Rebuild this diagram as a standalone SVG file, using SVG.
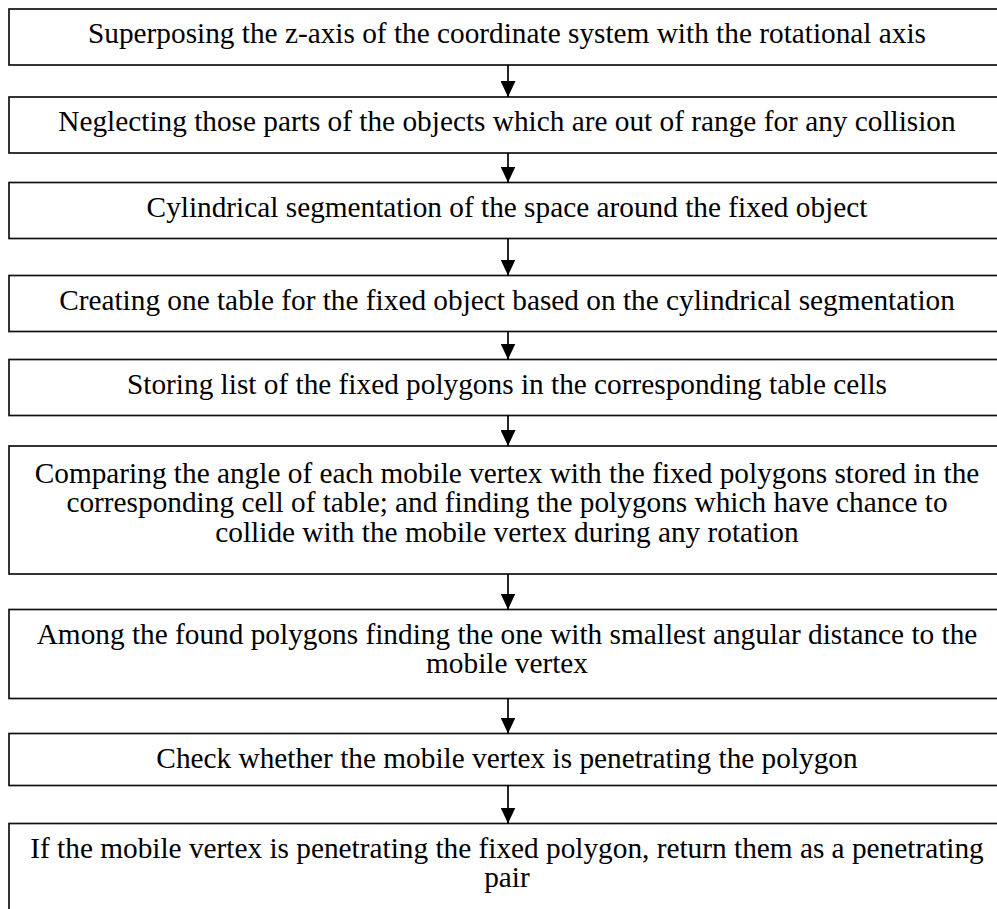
<svg xmlns="http://www.w3.org/2000/svg" width="997" height="909" viewBox="0 0 997 909">
<defs>
<style>
.box{fill:#fff;stroke:#111;stroke-width:1.7}
.t{font-family:"Liberation Serif","Times New Roman",serif;font-size:29.3px;fill:#000;text-anchor:middle}
.c{stroke:#000;stroke-width:1.7;fill:none}
</style>
<marker id="ah" markerWidth="16" markerHeight="15" refX="16" refY="7.5" orient="auto" markerUnits="userSpaceOnUse">
<path d="M0,0 L16,7.5 L0,15 Z" fill="#000"/>
</marker>
</defs>
<rect width="997" height="909" fill="#fff"/>
<g id="n1"><rect class="box" x="9" y="9" width="1000" height="56"/><text class="t" x="507" y="43">Superposing the z-axis of the coordinate system with the rotational axis</text></g>
<g id="n2"><rect class="box" x="9" y="97" width="1000" height="56"/><text class="t" x="507" y="131">Neglecting those parts of the objects which are out of range for any collision</text></g>
<g id="n3"><rect class="box" x="9" y="182.5" width="1000" height="56"/><text class="t" x="507" y="217">Cylindrical segmentation of the space around the fixed object</text></g>
<g id="n4"><rect class="box" x="9" y="275.5" width="1000" height="56"/><text class="t" x="507" y="310">Creating one table for the fixed object based on the cylindrical segmentation</text></g>
<g id="n5"><rect class="box" x="9" y="359.5" width="1000" height="56"/><text class="t" x="507" y="393.5">Storing list of the fixed polygons in the corresponding table cells</text></g>
<g id="n6"><rect class="box" x="9" y="446" width="1000" height="128"/><text class="t" x="507" y="482.5">Comparing the angle of each mobile vertex with the fixed polygons stored in the</text><text class="t" x="507" y="512">corresponding cell of table; and finding the polygons which have chance to</text><text class="t" x="507" y="541.5">collide with the mobile vertex during any rotation</text></g>
<g id="n7"><rect class="box" x="9" y="609.5" width="1000" height="89"/><text class="t" x="507" y="643.5">Among the found polygons finding the one with smallest angular distance to the</text><text class="t" x="507" y="673">mobile vertex</text></g>
<g id="n8"><rect class="box" x="9" y="733.5" width="1000" height="52"/><text class="t" x="507" y="767.5">Check whether the mobile vertex is penetrating the polygon</text></g>
<g id="n9"><rect class="box" x="9" y="823.5" width="1000" height="100"/><text class="t" x="507" y="857.5">If the mobile vertex is penetrating the fixed polygon, return them as a penetrating</text><text class="t" x="507" y="887">pair</text></g>
<g id="connectors">
<line class="c" x1="508" y1="65" x2="508" y2="97" marker-end="url(#ah)"/>
<line class="c" x1="508" y1="153" x2="508" y2="182.5" marker-end="url(#ah)"/>
<line class="c" x1="508" y1="238.5" x2="508" y2="275.5" marker-end="url(#ah)"/>
<line class="c" x1="508" y1="331.5" x2="508" y2="359.5" marker-end="url(#ah)"/>
<line class="c" x1="508" y1="415.5" x2="508" y2="446" marker-end="url(#ah)"/>
<line class="c" x1="508" y1="574" x2="508" y2="609.5" marker-end="url(#ah)"/>
<line class="c" x1="508" y1="698.5" x2="508" y2="733.5" marker-end="url(#ah)"/>
<line class="c" x1="508" y1="785.5" x2="508" y2="823.5" marker-end="url(#ah)"/>
</g>
</svg>
